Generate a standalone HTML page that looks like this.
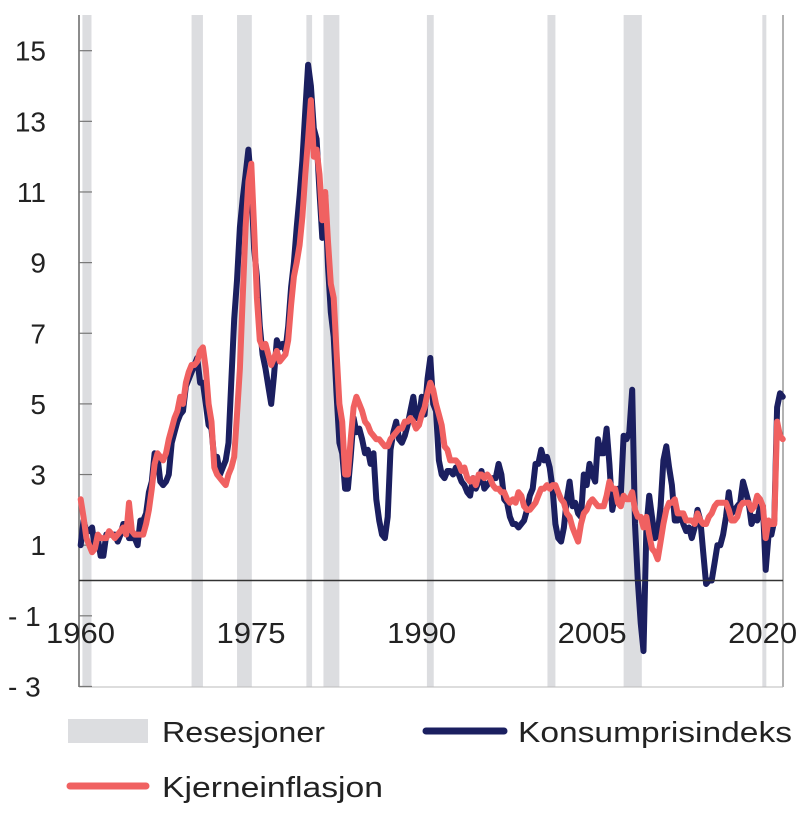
<!DOCTYPE html>
<html><head><meta charset="utf-8"><style>
body{margin:0;background:#fff;}
svg{display:block;font-family:"Liberation Sans",sans-serif;}
</style></head><body>
<svg id="chart" width="800" height="821" viewBox="0 0 800 821"></svg>
<script>
const yTicks=[15,13,11,9,7,5,3,1,-1,-3];
const yTickLabels=["15","13","11","9","7","5","3","1","- 1","- 3"];
const xTicks=[1960,1975,1990,2005,2020];
const recessions=[[1960.3,1961.1],[1969.9,1970.9],[1973.9,1975.2],[1980.0,1980.5],[1981.5,1982.9],[1990.6,1991.2],[2001.2,2001.9],[2007.9,2009.5],[2020.1,2020.4]];
const cpi=[1.0,1.7,1.4,1.4, 1.5,0.9,1.2,0.7, 0.7,1.3,1.3,1.3, 1.3,1.1,1.3,1.6, 1.6,1.2,1.2,1.2, 1.0,1.7,1.7,1.9,
2.5,2.8,3.6,3.5, 2.8,2.7,2.8,3.0, 3.9,4.2,4.5,4.7, 4.8,5.5,5.7,5.9, 6.1,6.3,5.6,5.6, 5.0,4.4,4.3,3.4,
3.5,3.0,3.2,3.4, 3.9,5.7,7.4,8.5, 10.0,10.8,11.5,12.2, 11.2,9.4,8.6,7.2, 6.4,6.0,5.5,5.0, 5.8,6.8,6.6,6.7,
6.5,7.2,8.3,9.0, 10.0,10.9,11.9,13.3, 14.6,14.0,12.8,12.5, 11.0,9.7,10.9,8.9, 7.6,6.9,5.3,3.9, 3.6,2.6,2.6,3.5,
4.6,4.2,4.3,4.0, 3.6,3.7,3.3,3.6, 2.3,1.7,1.3,1.2, 1.8,3.7,4.2,4.5, 4.0,3.9,4.1,4.4, 4.8,5.2,4.6,4.6,
5.2,4.7,5.7,6.3, 5.0,4.8,3.4,3.0, 2.9,3.1,3.1,3.0, 3.2,3.0,2.8,2.7, 2.5,2.4,2.9,2.6, 2.8,3.1,2.6,2.7,
2.8,2.9,2.9,3.3, 3.0,2.3,2.2,1.8, 1.6,1.6,1.5,1.6, 1.7,2.0,2.4,2.6, 3.3,3.3,3.7,3.4, 3.5,3.2,2.6,1.6,
1.2,1.1,1.5,2.3, 2.8,2.1,2.2,1.9, 1.8,3.0,2.7,3.3, 3.0,2.8,4.0,3.6, 3.6,4.3,3.3,2.0, 2.4,2.6,2.4,4.1,
4.0,4.2,5.4,1.6, 0.0,-1.2,-2.0,1.5, 2.4,1.8,1.2,1.3, 2.1,3.4,3.8,3.2, 2.7,1.7,1.7,1.9, 1.6,1.4,1.5,1.2,
1.5,2.0,1.7,0.8, -0.1,0.0,0.0,0.5, 1.0,1.0,1.3,1.8, 2.5,1.9,2.0,2.1, 2.2,2.8,2.5,2.2, 1.6,1.8,1.7,2.1,
2.1,0.3,1.3,1.3, 1.7,4.9,5.3,5.2];
const core=[2.3,1.8,1.2,1.0, 0.8,0.9,1.3,1.2, 1.2,1.2,1.4,1.3, 1.2,1.3,1.4,1.5, 1.3,2.2,1.4,1.3, 1.3,1.3,1.3,1.6,
2.0,2.6,3.3,3.6, 3.5,3.4,3.6,4.0, 4.3,4.6,4.8,5.2, 5.0,5.6,5.9,6.1, 6.1,6.2,6.5,6.6, 6.0,5.0,4.5,3.2,
3.0,2.9,2.8,2.7, 3.0,3.2,3.5,4.7, 6.0,8.0,10.0,11.3, 11.8,10.0,8.0,6.8, 6.6,6.7,6.4,6.1, 6.3,6.5,6.2,6.3,
6.4,6.8,7.8,8.6, 9.0,9.5,10.3,11.5, 12.5,13.6,12.0,12.2, 11.5,10.2,11.0,9.6, 8.4,8.0,6.5,5.0, 4.5,3.0,3.0,4.0,
4.9,5.2,5.0,4.8, 4.5,4.4,4.2,4.1, 4.0,4.0,3.9,3.8, 3.8,4.0,4.1,4.2, 4.3,4.3,4.5,4.5, 4.6,4.5,4.3,4.4,
4.7,4.9,5.3,5.6, 5.4,5.0,4.7,4.4, 3.8,3.7,3.4,3.4, 3.4,3.3,3.1,3.2, 2.9,2.8,2.9,2.7, 3.0,3.0,2.9,3.0,
2.9,2.7,2.6,2.6, 2.5,2.5,2.3,2.2, 2.3,2.2,2.5,2.4, 2.1,2.0,2.0,2.1, 2.2,2.4,2.6,2.6, 2.7,2.6,2.7,2.7,
2.5,2.3,2.2,1.9, 1.8,1.5,1.3,1.1, 1.6,1.9,2.0,2.2, 2.3,2.2,2.1,2.1, 2.1,2.4,2.8,2.6, 2.6,2.2,2.1,2.4,
2.3,2.3,2.5,2.0, 1.8,1.8,1.5,1.8, 1.3,0.9,0.8,0.6, 1.1,1.6,2.0,2.2, 2.2,2.3,1.9,1.9, 1.9,1.7,1.7,1.7,
1.6,1.9,1.7,1.6, 1.6,1.8,1.9,2.1, 2.2,2.2,2.2,2.2, 2.0,1.7,1.7,1.8, 2.1,2.2,2.2,2.2, 2.0,2.1,2.4,2.3,
2.1,1.2,1.7,1.6, 1.6,4.5,4.1,4.0];
const startYear=1960;

const NS="http://www.w3.org/2000/svg";
const svg=document.getElementById('chart');
const X0=79,SX=11.37,PL=79,PR=783,PT=15,PB=687;
function xs(t){return X0+(t-1960)*SX;}
function ys(v){return 580.5-v*35.32;}
function mk(tag,attrs,parent){const e=document.createElementNS(NS,tag);for(const k in attrs)e.setAttribute(k,attrs[k]);(parent||svg).appendChild(e);return e;}

recessions.forEach(function(r){
  const e=mk('rect',{x:xs(r[0]),y:PT,width:Math.max(4,xs(r[1])-xs(r[0])),height:PB-PT,fill:'#dcdde0'});
  
  
});
let a=mk('line',{x1:PL,y1:PT,x2:PL,y2:PB,stroke:'#666','stroke-width':1.5});


a=mk('line',{x1:PR,y1:PT,x2:PR,y2:PB,stroke:'#666','stroke-width':1});


a=mk('line',{x1:PL,y1:PB,x2:PR,y2:PB,stroke:'#bbb','stroke-width':1});


yTicks.forEach(function(v,i){
  const t=mk('line',{x1:PL,y1:ys(v),x2:PL+13,y2:ys(v),stroke:'#777','stroke-width':1.2});
  
  
  const long=yTickLabels[i].length>2;
  const lb=mk('text',{x:long?8:46,y:ys(v)+10,'font-size':28,fill:'#222','text-anchor':long?'start':'end'});
  lb.textContent=yTickLabels[i];
  
  
});
xTicks.forEach(function(yv){
  const lb=mk('text',{x:xs(yv)+2-35,y:643,'font-size':29,fill:'#222',textLength:69,lengthAdjust:'spacingAndGlyphs'});
  lb.textContent=String(yv);
  
  
});
function series(arr,color,name){
  const pts=arr.map(function(v,i){return xs(startYear+(i+0.6)/4).toFixed(1)+','+ys(v).toFixed(1);}).join(' ');
  const p=mk('polyline',{points:pts,fill:'none',stroke:color,'stroke-width':6,'stroke-linejoin':'round','stroke-linecap':'round'});
  
  
}
series(cpi,'#1b1f60','cpi-line');
series(core,'#f06161','core-inflation-line');
a=mk('line',{x1:PL,y1:ys(0),x2:PR,y2:ys(0),stroke:'#333','stroke-width':1.5});



// legend
let g=mk('rect',{x:68,y:719,width:80,height:24,fill:'#dcdde0'});


g=mk('text',{x:162,y:742,'font-size':29,fill:'#222',textLength:163,lengthAdjust:'spacingAndGlyphs'});g.textContent='Resesjoner';


g=mk('line',{x1:426,y1:731,x2:504,y2:731,stroke:'#1b1f60','stroke-width':7,'stroke-linecap':'round'});


g=mk('text',{x:518,y:742,'font-size':29,fill:'#222',textLength:274,lengthAdjust:'spacingAndGlyphs'});g.textContent='Konsumprisindeks';


g=mk('line',{x1:70,y1:786,x2:146,y2:786,stroke:'#f06161','stroke-width':7,'stroke-linecap':'round'});


g=mk('text',{x:162,y:797,'font-size':29,fill:'#222',textLength:221,lengthAdjust:'spacingAndGlyphs'});g.textContent='Kjerneinflasjon';


</script>
</body></html>
